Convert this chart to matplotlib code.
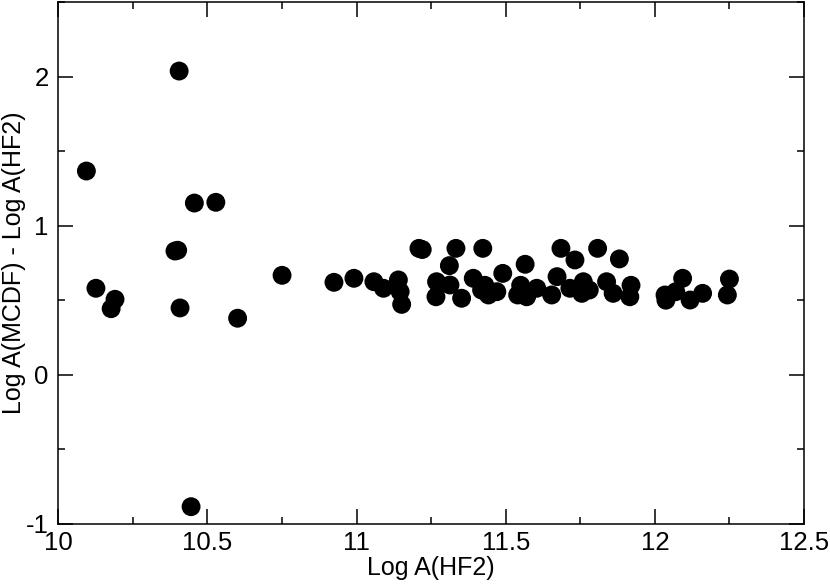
import matplotlib
matplotlib.use('Agg')
import matplotlib.pyplot as plt
from matplotlib.ticker import MultipleLocator

# Log A(HF2) vs. difference Log A(MCDF) - Log A(HF2)
log_hf2 = [10.094, 10.126, 10.177, 10.190, 10.391, 10.400, 10.405, 10.408,
           10.445, 10.456, 10.528, 10.601, 10.750, 10.924, 10.991, 11.058,
           11.090, 11.140, 11.146, 11.151, 11.209, 11.220, 11.268, 11.266,
           11.311, 11.313, 11.333, 11.352, 11.391, 11.423, 11.419, 11.430,
           11.442, 11.470, 11.490, 11.540, 11.550, 11.565, 11.570, 11.604,
           11.654, 11.672, 11.685, 11.715, 11.732, 11.755, 11.760, 11.780,
           11.808, 11.838, 11.860, 11.881, 11.916, 11.920, 12.034, 12.037,
           12.070, 12.093, 12.118, 12.160, 12.243, 12.250]
diff = [1.367, 0.580, 0.443, 0.506, 0.830, 0.835, 2.038, 0.448,
        -0.886, 1.152, 1.157, 0.379, 0.667, 0.620, 0.647, 0.624,
        0.580, 0.636, 0.557, 0.472, 0.848, 0.840, 0.624, 0.523,
        0.732, 0.602, 0.848, 0.513, 0.647, 0.848, 0.568, 0.600,
        0.535, 0.557, 0.680, 0.535, 0.600, 0.741, 0.523, 0.580,
        0.535, 0.658, 0.848, 0.580, 0.770, 0.546, 0.624, 0.568,
        0.848, 0.624, 0.546, 0.777, 0.523, 0.600, 0.535, 0.500,
        0.557, 0.647, 0.501, 0.546, 0.535, 0.642]

plt.rcParams['font.family'] = ['Liberation Sans', 'DejaVu Sans']
plt.rcParams['axes.unicode_minus'] = False

fig = plt.figure(figsize=(8.3, 5.84), dpi=100)
ax = fig.add_axes([0.0703, 0.1033, 0.8984, 0.8929])

ax.scatter(log_hf2, diff, s=185, c='black', edgecolors='none', zorder=3)

ax.set_xlim(10, 12.5)
ax.set_ylim(-1, 2.5)
ax.xaxis.set_major_locator(MultipleLocator(0.5))
ax.xaxis.set_minor_locator(MultipleLocator(0.25))
ax.yaxis.set_major_locator(MultipleLocator(1))
ax.yaxis.set_minor_locator(MultipleLocator(0.5))
ax.xaxis.set_major_formatter(plt.FuncFormatter(lambda v, p: '%g' % v))
ax.yaxis.set_major_formatter(plt.FuncFormatter(lambda v, p: '%g' % v))

ax.tick_params(which='both', direction='in', top=True, right=True,
               width=1.1, labelsize=18.5)
ax.tick_params(which='major', length=10.5)
ax.tick_params(which='minor', length=5)
ax.tick_params(axis='x', pad=5)
ax.tick_params(axis='y', pad=7)
for sp in ax.spines.values():
    sp.set_linewidth(1.1)

ax.set_xlabel('Log A(HF2)', fontsize=18, labelpad=1)
ax.set_ylabel('Log A(MCDF) - Log A(HF2)', fontsize=18, labelpad=0)

fig.savefig('out.png', dpi=100)
